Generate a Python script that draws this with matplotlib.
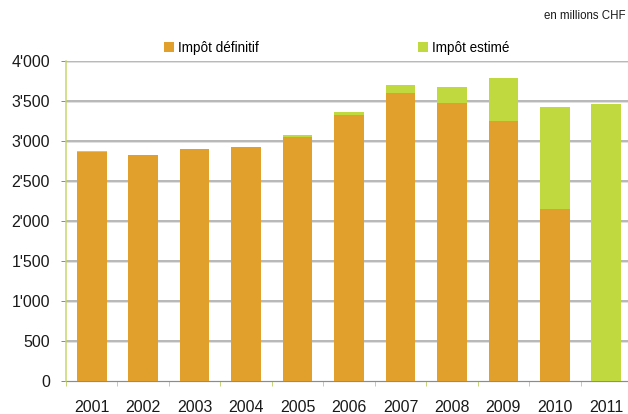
import matplotlib.pyplot as plt
from matplotlib.patches import Patch
from matplotlib.ticker import FixedLocator, FuncFormatter

years = ['2001', '2002', '2003', '2004', '2005', '2006',
         '2007', '2008', '2009', '2010', '2011']
impot_definitif = [2862, 2825, 2900, 2925, 3050, 3325, 3600, 3475, 3250, 2150, 0]
impot_estime = [13, 0, 0, 0, 25, 37, 104, 200, 538, 1275, 3462]
y_ticks = [0, 500, 1000, 1500, 2000, 2500, 3000, 3500, 4000]

orange = '#e1a02b'
green = '#bfd93f'
grid_gray = '#a8a8a8'

plt.rcParams['font.family'] = ['Liberation Sans', 'DejaVu Sans']

W, H, DPI = 628, 414, 72
fig = plt.figure(figsize=(W / DPI, H / DPI), dpi=DPI)
ax = fig.add_axes([66 / W, 33 / H, 566 / W, 320 / H])

x = list(range(len(years)))
ax.bar(x, impot_definitif, width=0.575, color=orange, zorder=3)
ax.bar(x, impot_estime, width=0.575, bottom=impot_definitif, color=green, zorder=3)

ax.set_xlim(-0.5, len(years) - 0.5)
ax.set_ylim(0, 4000)

# horizontal grid with a faint shadow line under it
for v in y_ticks[1:]:
    ax.axhline(v, color=grid_gray, lw=1.6, zorder=1)
    ax.axhline(v - 10, color='#e0e0e0', lw=1.0, zorder=0.9)

ax.yaxis.set_major_locator(FixedLocator(y_ticks))
ax.yaxis.set_major_formatter(FuncFormatter(
    lambda v, p: f"{int(v):,}".replace(',', "'")))
ax.tick_params(axis='y', length=5, width=1, color='#8c8c8c', pad=11,
               labelsize=16, labelcolor='#1a1a1a')

ax.set_xticks(x)
ax.set_xticklabels(years)
ax.set_xticks([i - 0.5 for i in x] + [len(years) - 0.5], minor=True)
ax.tick_params(axis='x', which='major', length=0, pad=19,
               labelsize=16, labelcolor='#1a1a1a')
ax.tick_params(axis='x', which='minor', length=5, width=1, color='#c5d77a')

for side in ['top', 'right']:
    ax.spines[side].set_visible(False)
ax.spines['left'].set_color('#c5d86a')
ax.spines['left'].set_linewidth(1.5)
ax.spines['bottom'].set_color('#8c8c8c')
ax.spines['bottom'].set_linewidth(1.2)
ax.spines['left'].set_zorder(4)

handles = [Patch(facecolor=orange, label='Impôt définitif'),
           Patch(facecolor=green, label='Impôt estimé')]
fig.legend(handles=handles, loc='center left',
           bbox_to_anchor=(164 / W, 1 - 48 / H), ncol=2, frameon=False,
           fontsize=13.5, handlelength=0.75, handleheight=0.75,
           handletextpad=0.3, columnspacing=11.8, borderpad=0,
           borderaxespad=0)

fig.text(626 / W, 1 - 16 / H, 'en millions CHF', ha='right', va='center',
         fontsize=11.5, color='#1a1a1a')

fig.savefig('out.png', dpi=DPI)
